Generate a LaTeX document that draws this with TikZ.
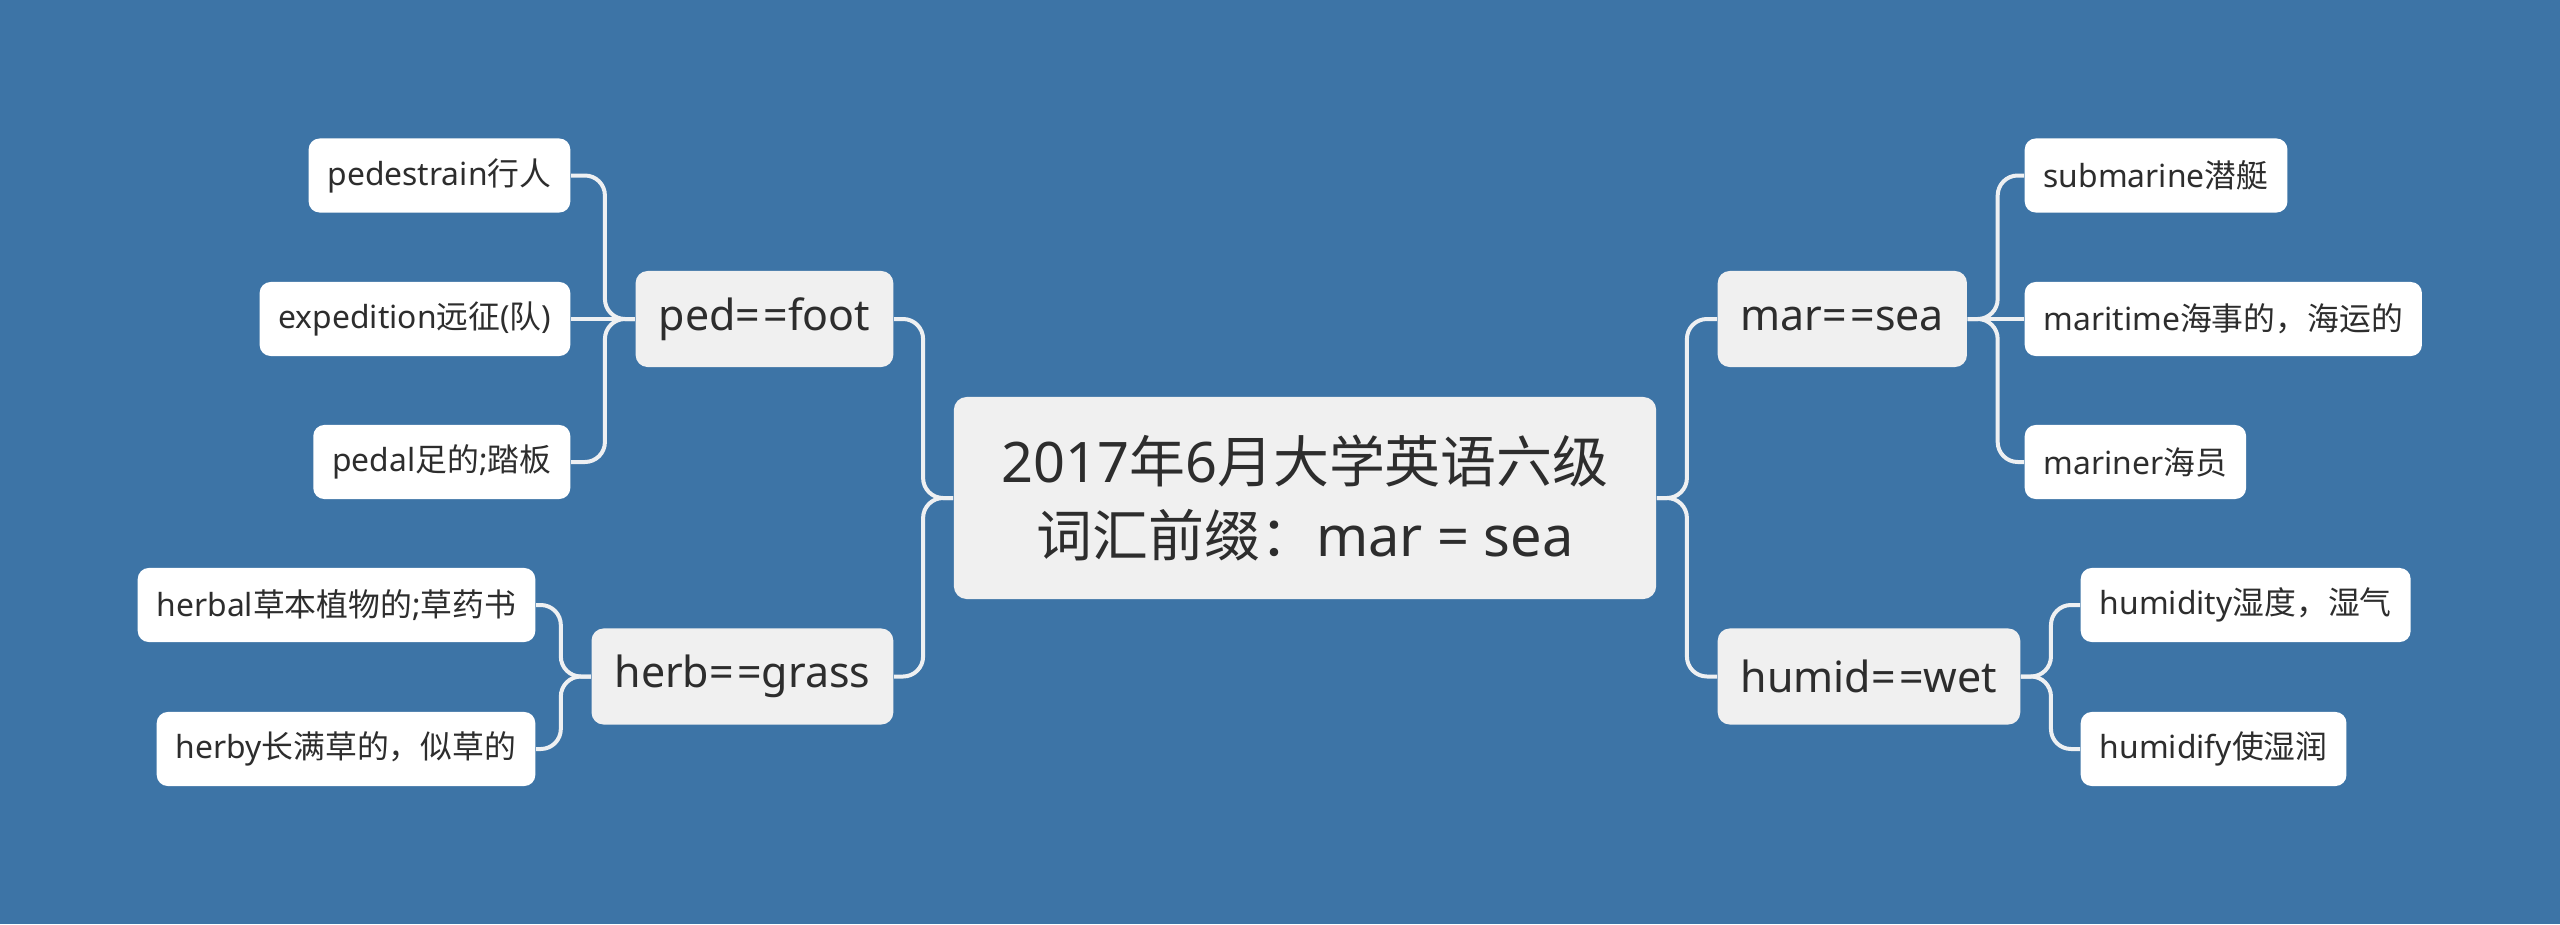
\documentclass[tikz,border=0pt]{standalone}
\usepackage{fontspec}
\setmainfont{Noto Sans}
\newfontfamily\zhfont{Noto Sans CJK SC}
\newcommand{\zh}[1]{{\zhfont #1}}
\definecolor{bgblue}{RGB}{61,116,166}
\definecolor{boxgray}{RGB}{240,240,240}
\definecolor{inkgray}{RGB}{45,45,45}
\definecolor{linkgray}{RGB}{238,240,242}
\tikzset{
  topic/.style={draw=none, fill=boxgray, text=inkgray, rounded corners=0.13cm,
    align=center, minimum width=7.02cm, minimum height=2.02cm, inner sep=0pt,
    font=\fontsize{15.9}{20.8}\selectfont},
  branch/.style={draw=none, fill=boxgray, text=inkgray, rounded corners=0.12cm,
    minimum height=0.96cm, inner xsep=0.23cm, inner ysep=0pt,
    font=\fontsize{12.2}{14}\selectfont},
  leaf/.style={draw=none, fill=white, text=inkgray, rounded corners=0.11cm,
    minimum height=0.74cm, inner xsep=0.19cm, inner ysep=0pt,
    font=\fontsize{9.05}{11}\selectfont},
  link/.style={draw=linkgray, line width=0.04cm, rounded corners=0.2cm}
}
\begin{document}
\begin{tikzpicture}[x=0.01cm,y=-0.01cm]
  \fill[bgblue] (0,0) rectangle (2560,924);
  \useasboundingbox (0,0) rectangle (2560,924);
  %Main topic
  \node[topic] (root) at (1305,498) {2017\zh{年}6\zh{月大学英语六级}\\\zh{词汇前缀：}mar = sea};
  %Left side
  \node[branch,anchor=east] (ped) at (894,319) {ped=\kern0.08em=foot};
  \node[branch,anchor=east] (herb) at (894,676.5) {herb=\kern0.08em=grass};
  \node[leaf,anchor=east] (pedestrain) at (571,175.5) {pedestrain\zh{行人}};
  \node[leaf,anchor=east] (expedition) at (571,319) {expedition\zh{远征}(\zh{队})};
  \node[leaf,anchor=east] (pedal) at (571,462) {pedal\zh{足的};\zh{踏板}};
  \node[leaf,anchor=east] (herbal) at (536,605) {herbal\zh{草本植物的};\zh{草药书}};
  \node[leaf,anchor=east] (herby) at (536,749) {herby\zh{长满草的，似草的}};
  %Right side
  \node[branch,anchor=west] (mar) at (1717,319) {mar=\kern0.08em=sea};
  \node[branch,anchor=west] (humid) at (1717,676.5) {humid=\kern0.08em=wet};
  \node[leaf,anchor=west] (submarine) at (2024,175.5) {submarine\zh{潜艇}};
  \node[leaf,anchor=west] (maritime) at (2024,319) {maritime\zh{海事的，海运的}};
  \node[leaf,anchor=west] (mariner) at (2024,462) {mariner\zh{海员}};
  \node[leaf,anchor=west] (humidity) at (2080,605) {humidity\zh{湿度，湿气}};
  \node[leaf,anchor=west] (humidify) at (2080,749) {humidify\zh{使湿润}};
  %Links to the left
  \draw[link] (root.west) -- ++(-30,0) |- (ped.east);
  \draw[link] (root.west) -- ++(-30,0) |- (herb.east);
  \draw[link] (ped.west) -- ++(-30,0) |- (pedestrain.east);
  \draw[link] (ped.west) -- (expedition.east);
  \draw[link] (ped.west) -- ++(-30,0) |- (pedal.east);
  \draw[link] (herb.west) -- ++(-30,0) |- (herbal.east);
  \draw[link] (herb.west) -- ++(-30,0) |- (herby.east);
  %Links to the right
  \draw[link] (root.east) -- ++(30,0) |- (mar.west);
  \draw[link] (root.east) -- ++(30,0) |- (humid.west);
  \draw[link] (mar.east) -- ++(30,0) |- (submarine.west);
  \draw[link] (mar.east) -- (maritime.west);
  \draw[link] (mar.east) -- ++(30,0) |- (mariner.west);
  \draw[link] (humid.east) -- ++(30,0) |- (humidity.west);
  \draw[link] (humid.east) -- ++(30,0) |- (humidify.west);
\end{tikzpicture}
\end{document}
